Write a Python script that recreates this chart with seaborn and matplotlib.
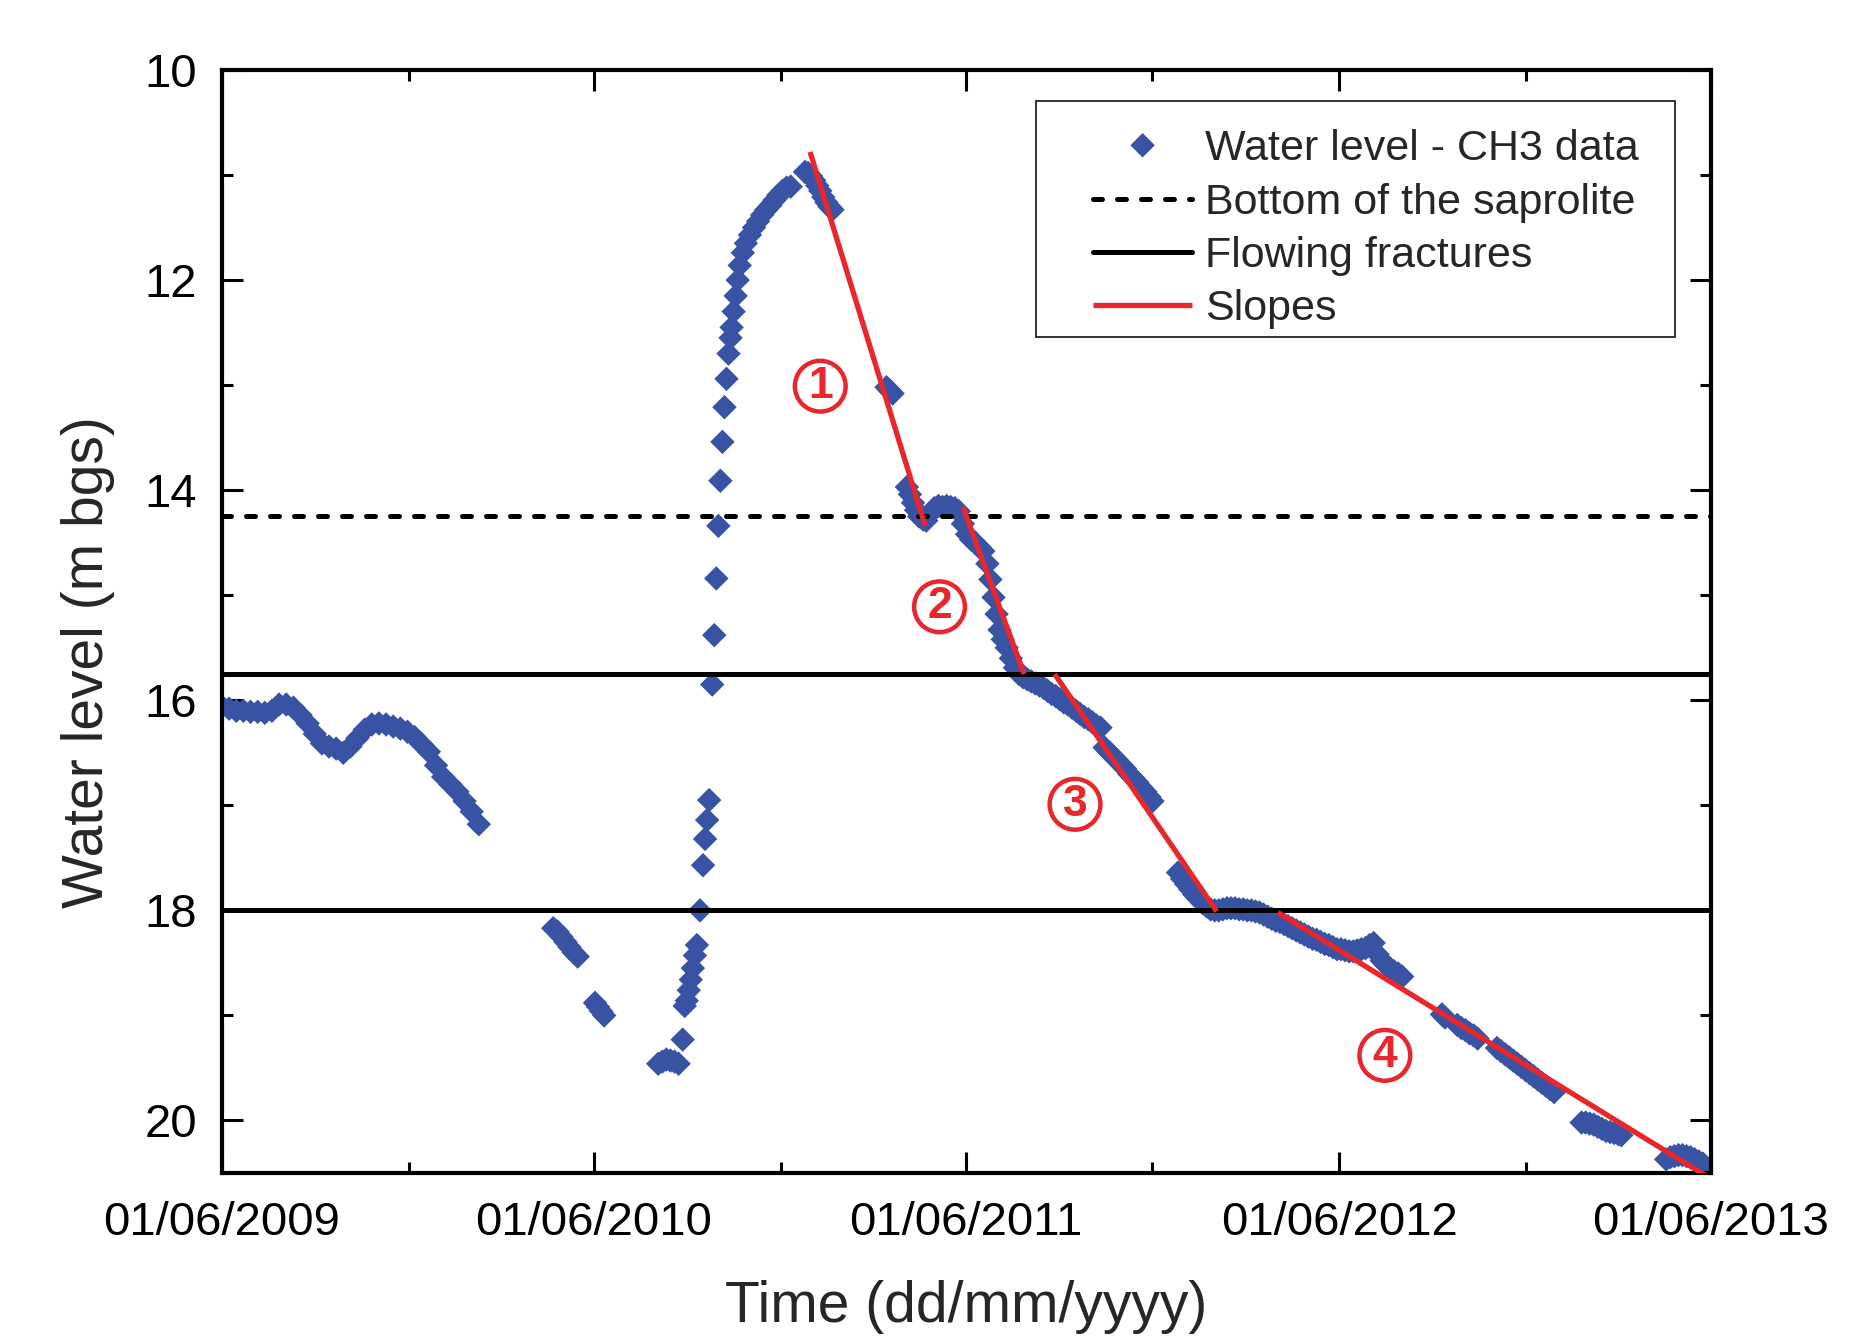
import matplotlib
matplotlib.use("Agg")
import matplotlib.dates as mdates
import matplotlib.patches as patches
import matplotlib.pyplot as plt
import pandas as pd
import seaborn as sns
from matplotlib.ticker import MultipleLocator

# series start (day 0)
start = pd.Timestamp("2009-06-01")

# water level observations, CH3 (days since 01/06/2009, m below ground surface)
obs_day = [
    0, 7, 14, 21, 28, 35, 42, 49, 56, 63, 70, 77, 84, 91, 98, 105, 112, 119, 126,
    133, 140, 147, 154, 161, 168, 175, 182, 189, 196, 203, 210, 217, 224, 231,
    238, 245, 252,
    325, 329, 333, 337, 341, 345, 349,
    366, 369, 372, 375,
    428, 432, 436, 440, 444, 448,
    452, 454, 456, 458, 460, 462, 464, 466, 469, 472, 474, 476, 478, 481, 483,
    485, 487, 489, 491, 493, 495, 497, 499,
    500, 502, 504, 506, 508, 511, 514, 518, 522, 526, 530, 534, 538, 542, 546,
    550, 554, 558,
    572, 575, 578, 581, 584, 587, 590, 593, 596, 599,
    652, 655, 658,
    672, 675, 678, 681, 684, 688, 691,
    695, 699, 703, 707, 711, 715, 719, 723, 727, 731, 735, 739, 743, 747, 751,
    754, 757, 760, 763, 766, 770, 774, 778, 782, 786, 790, 794, 798, 802, 806,
    810, 814, 818, 822, 826, 830, 834, 838, 842, 846, 850, 854, 858, 862,
    866, 870, 874, 878, 882, 886, 890, 894, 898, 902, 906, 910, 913,
    938, 942, 946, 950, 954, 958, 962, 966, 970, 974, 978, 982, 986, 990, 994,
    998, 1002, 1006, 1010, 1014, 1018, 1022, 1026, 1030, 1034, 1038, 1042, 1046,
    1050, 1054, 1058, 1062, 1066, 1070, 1074, 1078, 1082, 1086, 1090, 1094,
    1098, 1102, 1106, 1110, 1114, 1118, 1122, 1126, 1130, 1134, 1138, 1142,
    1146, 1150, 1154, 1158,
    1197, 1200, 1212, 1216, 1220, 1224, 1228, 1232,
    1251, 1255, 1259, 1263, 1267, 1271, 1275, 1279, 1283, 1287, 1291, 1295,
    1299, 1303, 1307,
    1334, 1338, 1342, 1346, 1350, 1354, 1358, 1362, 1366, 1370, 1373,
    1417, 1421, 1425, 1429, 1433, 1437, 1441, 1445, 1449, 1453, 1457,
]
obs_level = [
    16.06, 16.08, 16.10, 16.10, 16.11, 16.11, 16.12, 16.10, 16.04, 16.04, 16.07,
    16.14, 16.22, 16.32, 16.41, 16.44, 16.46, 16.50, 16.44, 16.36, 16.28, 16.23,
    16.22, 16.23, 16.25, 16.27, 16.30, 16.35, 16.42, 16.49, 16.62, 16.73, 16.80,
    16.87, 16.96, 17.06, 17.18,
    18.17, 18.20, 18.25, 18.30, 18.35, 18.40, 18.44,
    18.88, 18.92, 18.96, 19.00,
    19.46, 19.44, 19.42, 19.43, 19.44, 19.46,
    19.23, 18.91, 18.86, 18.76, 18.66, 18.55, 18.43, 18.33, 18.00, 17.57, 17.32,
    17.14, 16.95, 15.85, 15.38, 14.84, 14.34, 13.91, 13.54, 13.21, 12.94, 12.70,
    12.55,
    12.45, 12.30, 12.15, 12.00, 11.86, 11.74, 11.65, 11.57, 11.50, 11.44, 11.38,
    11.33, 11.29, 11.24, 11.19, 11.15, 11.12, 11.11,
    10.97, 10.98, 11.01, 11.05, 11.10, 11.15, 11.21, 11.26, 11.30, 11.33,
    13.02, 13.05, 13.08,
    13.97, 14.04, 14.12, 14.19, 14.25, 14.28, 14.29,
    14.22, 14.17, 14.15, 14.16, 14.15, 14.16, 14.17, 14.20, 14.32, 14.42, 14.47,
    14.50, 14.54, 14.58, 14.70, 14.85, 15.02, 15.18, 15.33, 15.42, 15.50, 15.60,
    15.69, 15.75, 15.78, 15.80, 15.82, 15.84, 15.86, 15.88, 15.91, 15.94, 15.96,
    15.99, 16.02, 16.04, 16.07, 16.10, 16.13, 16.16, 16.18, 16.21, 16.24, 16.26,
    16.45, 16.49, 16.53, 16.57, 16.61, 16.65, 16.70, 16.74, 16.78, 16.83, 16.87,
    16.92, 16.96,
    17.64, 17.70, 17.75, 17.80, 17.85, 17.89, 17.93, 17.96, 17.99, 18.00, 18.00,
    17.99, 17.98, 17.98, 17.98, 17.99, 17.99, 18.00, 18.00, 18.01, 18.02, 18.04,
    18.06, 18.08, 18.10, 18.11, 18.13, 18.15, 18.17, 18.19, 18.21, 18.23, 18.25,
    18.27, 18.28, 18.30, 18.32, 18.33, 18.35, 18.37, 18.37, 18.38, 18.39, 18.39,
    18.38, 18.37, 18.36, 18.33, 18.31, 18.42, 18.48, 18.52, 18.55, 18.58, 18.60,
    18.63,
    18.99, 19.02, 19.09, 19.12, 19.14, 19.17, 19.19, 19.22,
    19.31, 19.34, 19.37, 19.40, 19.43, 19.46, 19.49, 19.52, 19.55, 19.58, 19.61,
    19.64, 19.67, 19.70, 19.73,
    20.02, 20.02, 20.03, 20.04, 20.06, 20.08, 20.10, 20.11, 20.12, 20.13, 20.14,
    20.37, 20.35, 20.34, 20.33, 20.33, 20.34, 20.35, 20.37, 20.39, 20.41, 20.45,
]

# reference depths
saprolite_bottom = 14.25
fracture_depths = [15.75, 18.0]

# fitted recession slopes (start/end day, start/end level)
slope_days = [(577, 690), (727, 787), (817, 976), (1036, 1455)]
slope_levels = [(10.78, 14.34), (14.16, 15.75), (15.75, 18.01), (18.02, 20.52)]
slope_names = ["1", "2", "3", "4"]

blue = "#3953a4"
red = "#e8262b"

sns.set_style("ticks")
plt.rcParams["font.family"] = ["Liberation Sans", "DejaVu Sans"]

fig = plt.figure(figsize=(18.63, 13.39), dpi=100)
ax = fig.add_axes([222 / 1863, 166 / 1339, 1489 / 1863, 1103 / 1339])

df = pd.DataFrame({
    "date": start + pd.to_timedelta(obs_day, unit="D"),
    "level": obs_level,
})
sns.scatterplot(data=df, x="date", y="level", marker="D", s=155, color=blue,
                edgecolor="none", linewidth=0, ax=ax, zorder=2,
                label="Water level - CH3 data")

h_sap = ax.axhline(saprolite_bottom, color="black", lw=3.6, ls=(0, (1.8, 3.0)),
                   dash_capstyle="round", zorder=3, label="Bottom of the saprolite")
h_frac = None
for depth in fracture_depths:
    h_frac = ax.axhline(depth, color="black", lw=3.6, zorder=3,
                        label="Flowing fractures")

h_slope = None
for (d0, d1), (l0, l1) in zip(slope_days, slope_levels):
    h_slope, = ax.plot([start + pd.Timedelta(days=d0), start + pd.Timedelta(days=d1)],
                       [l0, l1], color=red, lw=3.8, zorder=4, solid_capstyle="butt")

# circled slope numbers
label_pos = [(587, 13.01), (704, 15.11), (837, 16.99), (1141, 19.38)]
for name, (d, lv) in zip(slope_names, label_pos):
    ax.text(start + pd.Timedelta(days=d), lv, name, color=red, fontsize=32,
            fontweight="bold", ha="center", va="center", zorder=5,
            bbox=dict(boxstyle="circle,pad=0.11", fc="none", ec=red, lw=3.2))

ax.set_xlim(start, pd.Timestamp("2013-06-01"))
ax.set_ylim(20.5, 10)

ax.xaxis.set_major_locator(mdates.MonthLocator(bymonth=6, bymonthday=1))
ax.xaxis.set_minor_locator(mdates.MonthLocator(bymonth=12, bymonthday=1))
ax.xaxis.set_major_formatter(mdates.DateFormatter("%d/%m/%Y"))
ax.yaxis.set_major_locator(MultipleLocator(2))
ax.yaxis.set_minor_locator(MultipleLocator(1))

ax.tick_params(which="major", direction="in", length=15, width=2.2, top=True,
               right=True, labelsize=34, color="black", labelcolor="black")
ax.tick_params(which="minor", direction="in", length=8, width=2.2, top=True,
               right=True, color="black")
ax.tick_params(axis="x", which="major", pad=20)
ax.tick_params(axis="y", which="major", pad=18)
for sp in ax.spines.values():
    sp.set_linewidth(3)
    sp.set_color("black")

ax.set_xlabel("Time (dd/mm/yyyy)", fontsize=41, labelpad=25)
ax.set_ylabel("Water level (m bgs)", fontsize=41)
ax.yaxis.set_label_coords(-0.072, 0.463)

# legend with a hand-placed frame
handles = [ax.collections[0], h_sap, h_frac, h_slope]
labels = ["Water level - CH3 data", "Bottom of the saprolite",
          "Flowing fractures", "Slopes"]
ax.legend(handles, labels, loc="upper left", bbox_to_anchor=(0.585, 0.9462),
          frameon=False, fontsize=31, borderpad=0, borderaxespad=0,
          handlelength=2.3, handletextpad=0.3, labelspacing=0.31,
          scatterpoints=1, scatteryoffsets=[0.5])
frame = patches.Rectangle((0.5467, 0.7579), 0.9758 - 0.5467, 0.9719 - 0.7579,
                          transform=ax.transAxes, fill=False, lw=1.3,
                          edgecolor="#222222", zorder=6)
ax.add_patch(frame)

fig.savefig("out.png", dpi=100)
